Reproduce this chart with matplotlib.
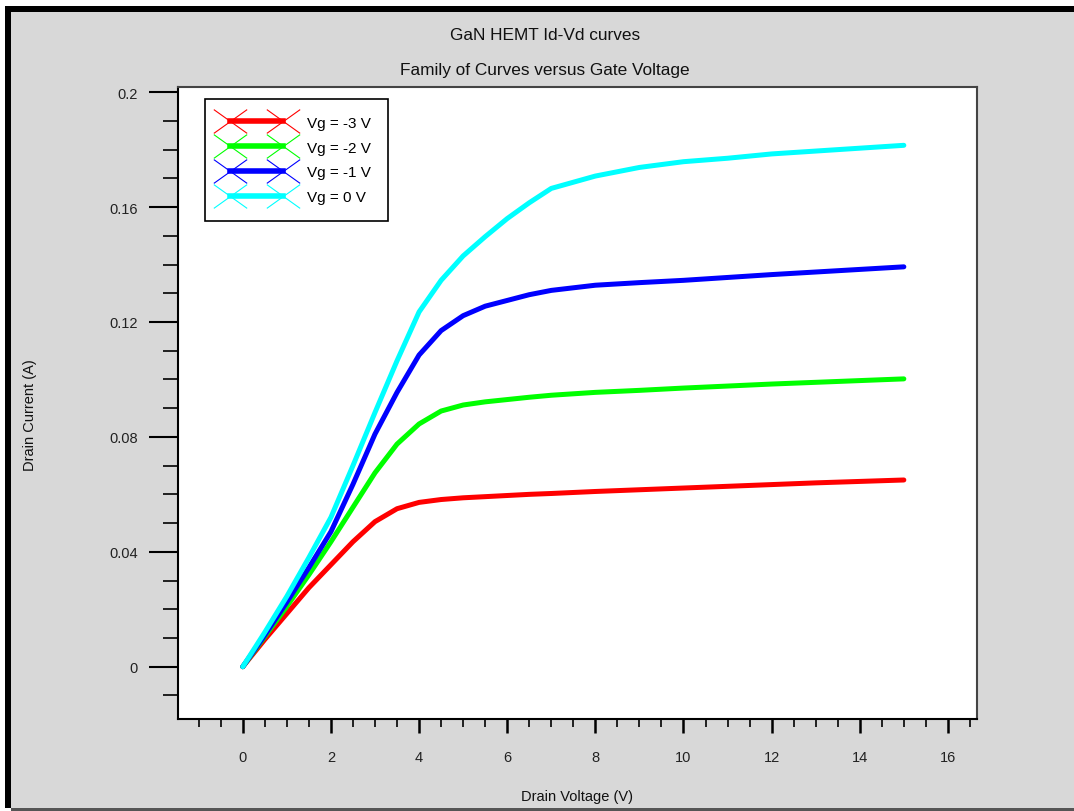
import matplotlib
matplotlib.use("Agg")
import matplotlib.pyplot as plt
from matplotlib.patches import Rectangle
from matplotlib.path import Path
from matplotlib.ticker import MultipleLocator
from matplotlib.lines import Line2D
from matplotlib.legend_handler import HandlerLine2D
import numpy as np

plt.rcParams['font.family'] = ['Liberation Sans', 'DejaVu Sans']

# ---- data ----
vd = [0, 0.5, 1, 1.5, 2, 2.5, 3, 3.5, 4, 4.5, 5, 5.5, 6, 6.5, 7, 8, 9, 10, 11, 12, 13, 14, 15]
id_m3 = [0, 0.0095, 0.0185, 0.0275, 0.0355, 0.0435, 0.0505, 0.055, 0.0572, 0.0582, 0.0588, 0.0592, 0.0596,
         0.06, 0.0603, 0.061, 0.0616, 0.0622, 0.0628, 0.0634, 0.064, 0.0645, 0.065]
id_m2 = [0, 0.0105, 0.021, 0.032, 0.0435, 0.0555, 0.0675, 0.0775, 0.0845, 0.089, 0.0911, 0.0922, 0.093,
         0.0938, 0.0945, 0.0955, 0.0962, 0.097, 0.0977, 0.0984, 0.099, 0.0996, 0.1002]
id_m1 = [0, 0.011, 0.0225, 0.0345, 0.047, 0.0635, 0.081, 0.0955, 0.1085, 0.117, 0.1222, 0.1255, 0.1275,
         0.1295, 0.131, 0.1328, 0.1337, 0.1345, 0.1355, 0.1365, 0.1374, 0.1383, 0.1392]
id_0 = [0, 0.012, 0.0245, 0.038, 0.052, 0.07, 0.0885, 0.1065, 0.1235, 0.1345, 0.143, 0.1497, 0.156,
        0.1615, 0.1665, 0.1708, 0.1738, 0.1758, 0.177, 0.1785, 0.1795, 0.1805, 0.1815]
labels = ["Vg = -3 V", "Vg = -2 V", "Vg = -1 V", "Vg = 0 V"]
colors = ["#ff0000", "#00ff00", "#0000ff", "#00ffff"]
series = [id_m3, id_m2, id_m1, id_0]
title1 = "GaN HEMT Id-Vd curves"
title2 = "Family of Curves versus Gate Voltage"
xlabel = "Drain Voltage (V)"
ylabel = "Drain Current (A)"

W, H = 1074, 812
fig = plt.figure(figsize=(W / 100, H / 100), dpi=100)
fig.patch.set_facecolor("white")


def fx(px):
    return px / W


def fy(py):
    return 1 - py / H


# window background and frame
fig.patches.append(Rectangle((fx(11), fy(809)), fx(W) - fx(11), fy(13) - fy(809),
                             transform=fig.transFigure, facecolor="#d8d8d8", edgecolor="none", zorder=-10))
fig.patches.append(Rectangle((fx(5), fy(809)), fx(11) - fx(5), fy(7) - fy(809),
                             transform=fig.transFigure, facecolor="black", edgecolor="none", zorder=-9))
fig.patches.append(Rectangle((fx(5), fy(13)), fx(W) - fx(5), fy(7) - fy(13),
                             transform=fig.transFigure, facecolor="black", edgecolor="none", zorder=-9))
fig.patches.append(Rectangle((fx(11), fy(812)), fx(W) - fx(11), fy(809) - fy(812),
                             transform=fig.transFigure, facecolor="#555555", edgecolor="none", zorder=-9))

ax = fig.add_axes([fx(178), fy(720), fx(977) - fx(178), fy(88) - fy(720)])
ax.set_facecolor("white")

for y, c, lab in zip(series, colors, labels):
    ax.plot(vd, y, color=c, lw=3.6, solid_joinstyle="round", solid_capstyle="round", label=lab)

ax.set_xlim(-1.47, 16.66)
ax.set_ylim(-0.0182, 0.2018)
ax.xaxis.set_minor_locator(MultipleLocator(0.5))
ax.yaxis.set_minor_locator(MultipleLocator(0.01))
ax.set_yticks([0, 0.04, 0.08, 0.12, 0.16, 0.2])
ax.set_yticklabels(["0", "0.04", "0.08", "0.12", "0.16", "0.2"])
ax.set_xticks([0, 2, 4, 6, 8, 10, 12, 14, 16])
ax.set_xticklabels(["0", "2", "4", "6", "8", "10", "12", "14", "16"])

ax.tick_params(axis="y", which="major", direction="out", length=21, width=1.5, pad=8,
               labelsize=10.5, labelcolor="#222222", right=False)
ax.tick_params(axis="y", which="minor", direction="out", length=11, width=1.2, right=False)
ax.tick_params(axis="x", which="major", direction="out", length=10, width=1.8, pad=12,
               labelsize=10.5, labelcolor="#222222", top=False)
ax.tick_params(axis="x", which="minor", direction="out", length=6, width=1.2, top=False)
for s in ["left", "bottom"]:
    ax.spines[s].set_color("black")
    ax.spines[s].set_linewidth(1.5)
for s in ["right", "top"]:
    ax.spines[s].set_color("#444444")
    ax.spines[s].set_linewidth(1.5)


# legend: thick line between two wide crossed marks
class CrossEndHandler(HandlerLine2D):
    def get_xdata(self, legend, xdescent, ydescent, width, height, fontsize):
        pad = self._marker_pad * fontsize
        xd = np.linspace(-xdescent + pad, -xdescent + width - pad, 2)
        return xd, xd


xmark = Path([(-1.4, -1), (1.4, 1), (-1.4, 1), (1.4, -1)],
             [Path.MOVETO, Path.LINETO, Path.MOVETO, Path.LINETO])
handles = [Line2D([], [], color=c, lw=4, marker=xmark, markersize=24, markeredgewidth=0.8,
                  markeredgecolor=c) for c in colors]
ax_w = 977 - 178
ax_h = 720 - 88
leg = ax.legend(handles, labels, loc="upper left",
                bbox_to_anchor=((205 - 178) / ax_w, 1 - (100 - 88) / ax_h),
                handler_map={Line2D: CrossEndHandler(marker_pad=0.54)},
                fontsize=11, frameon=True, fancybox=False, edgecolor="black", framealpha=1,
                numpoints=2, handlelength=4.54, handletextpad=1.03, borderpad=1.1,
                labelspacing=0.7, borderaxespad=0)
leg.get_frame().set_linewidth(1.2)

fig.text(fx(545), fy(36), title1, ha="center", va="center", fontsize=12.4, color="#111111")
fig.text(fx(545), fy(70), title2, ha="center", va="center", fontsize=12.4, color="#111111")
fig.text(fx(577), fy(797), xlabel, ha="center", va="center", fontsize=10.5, color="#111111")
fig.text(fx(30), fy(415), ylabel, ha="center", va="center", rotation=90, fontsize=10.5, color="#111111")

fig.savefig("out.png", dpi=100, facecolor=fig.get_facecolor())
